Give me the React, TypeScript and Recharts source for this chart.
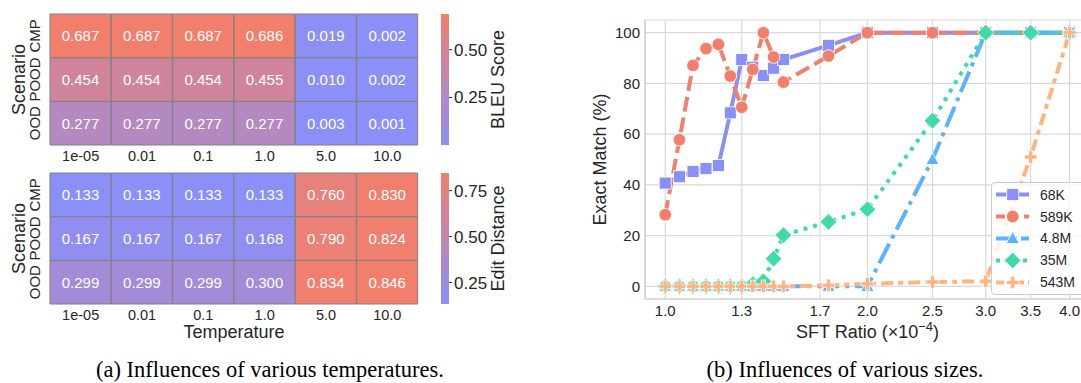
import React from 'react';
import {
  BarChart,
  Bar,
  Cell,
  LabelList,
  LineChart,
  Line,
  XAxis,
  YAxis,
  CartesianGrid,
  Legend,
} from 'recharts';

// ---- heatmap data (a) ----
const temperatures = ['1e-05', '0.01', '0.1', '1.0', '5.0', '10.0'];
const scenarioLabels = ['OOD', 'POOD', 'CMP']; // bottom to top

const bleuCMP = [0.687, 0.687, 0.687, 0.686, 0.019, 0.002];
const bleuPOOD = [0.454, 0.454, 0.454, 0.455, 0.01, 0.002];
const bleuOOD = [0.277, 0.277, 0.277, 0.277, 0.003, 0.001];

const editCMP = [0.133, 0.133, 0.133, 0.133, 0.76, 0.83];
const editPOOD = [0.167, 0.167, 0.167, 0.168, 0.79, 0.824];
const editOOD = [0.299, 0.299, 0.299, 0.3, 0.834, 0.846];

const bleuTicks = [0.25, 0.5];
const editTicks = [0.25, 0.5, 0.75];

// ---- line data (b) ----
const sftRatios = [1.0, 1.05, 1.1, 1.15, 1.2, 1.25, 1.3, 1.35, 1.4, 1.45, 1.5, 1.75, 2.0, 2.5, 3.0, 3.5, 4.0];
const em68K = [40.7, 43.2, 45.3, 46.4, 47.6, 68.4, 89.4, 86.4, 83.1, 86.0, 89.4, 95, 100, 100, 100, 100, 100];
const em589K = [28.2, 57.8, 87.1, 93.7, 95.4, 82.9, 70.6, 85.5, 100, 90.4, 80.5, 90.8, 100, 100, 100, 100, 100];
const em4_8M = [0, 0, 0, 0, 0, 0, 0, 0, 0, 0, 0, 0, 0, 50, 100, 100, 100];
const em35M = [0, 0, 0, 0, 0, 0, 0, 0.8, 2, 10.9, 20.2, 25.4, 30.4, 65.3, 100, 100, 100];
const em543M = [0, 0, 0, 0, 0, 0, 0, 0, 0, 0, 0, 0.4, 1, 1.7, 2, 51, 100];

const sftTicks = [1.0, 1.3, 1.7, 2.0, 2.5, 3.0, 3.5, 4.0];
const emTicks = [0, 20, 40, 60, 80, 100];

const seriesNames = ['68K', '589K', '4.8M', '35M', '543M'];
const seriesKeys = ['m68K', 'm589K', 'm4_8M', 'm35M', 'm543M'];
const seriesColors = ['#8b90f8', '#f27f6b', '#5db2ff', '#40d9a9', '#ffb482'];
const seriesDashes = [undefined, '15 6', '22 6 4 6', '4 6', '12 5 5 5'];
const legendDashes = [undefined, '9 5', '14 4 3 4', '4 5', '8 4 4 4'];
const seriesShapes = ['square', 'circle', 'triangle', 'diamond', 'plus'];

const lineRows = sftRatios.map((r, i) => ({
  ratio: r,
  m68K: em68K[i],
  m589K: em589K[i],
  m4_8M: em4_8M[i],
  m35M: em35M[i],
  m543M: em543M[i],
}));

const FONT = '"Liberation Sans", Arial, sans-serif';
const INK = '#262626';
const LOW = [139, 143, 248];
const HIGH = [242, 127, 107];

function mix(t: number) {
  const c = LOW.map((l, i) => Math.round(l + (HIGH[i] - l) * t));
  return `rgb(${c.join(',')})`;
}

function vbOf(p: any) {
  return p && p.viewBox ? p.viewBox : p;
}

const renderScenarioTick = (p: any) => {
  const idx = Math.round(p.payload.value - 0.5);
  return (
    <text
      x={p.x}
      y={p.y}
      transform={`rotate(-90 ${p.x} ${p.y})`}
      textAnchor="middle"
      fontSize={15}
      fill={INK}
      fontFamily={FONT}
    >
      {scenarioLabels[idx]}
    </text>
  );
};

const renderScenarioLabel = (p: any) => {
  const vb = vbOf(p);
  const x = Number(vb.x) + 25;
  const y = Number(vb.y) + Number(vb.height) / 2;
  return (
    <text x={x} y={y} transform={`rotate(-90 ${x} ${y})`} textAnchor="middle" fontSize={18} fill={INK} fontFamily={FONT}>
      Scenario
    </text>
  );
};

const renderTempLabel = (p: any) => {
  const vb = vbOf(p);
  return (
    <text
      x={Number(vb.x) + Number(vb.width) / 2}
      y={Number(vb.y) + 34}
      textAnchor="middle"
      fontSize={18}
      fill={INK}
      fontFamily={FONT}
    >
      Temperature
    </text>
  );
};

const renderCellValue = (p: any) => {
  const vb = vbOf(p);
  const x = Number(vb.x) + Number(vb.width) / 2;
  const y = Number(vb.y) + Number(vb.height) / 2;
  return (
    <text x={x} y={y} dy="0.36em" textAnchor="middle" fontSize={15} fill="#ffffff" fontFamily={FONT}>
      {Number(p.value).toFixed(3)}
    </text>
  );
};

function Heatmap({ cmp, pood, ood, height, showLabel }: any) {
  const all = [...cmp, ...pood, ...ood];
  const lo = Math.min(...all);
  const hi = Math.max(...all);
  const colour = (v: number) => mix((v - lo) / (hi - lo));
  const data = temperatures.map((t, i) => ({
    temp: t,
    OOD: ood[i],
    POOD: pood[i],
    CMP: cmp[i],
    OOD_cell: 1,
    POOD_cell: 1,
    CMP_cell: 1,
  }));
  const keys = ['OOD', 'POOD', 'CMP'];
  return (
    <BarChart
      width={420}
      height={height}
      data={data}
      margin={{ top: 14, right: 2, bottom: 0, left: 0 }}
      barCategoryGap={0}
      barGap={0}
    >
      <XAxis
        dataKey="temp"
        interval={0}
        tickLine={false}
        axisLine={false}
        tickSize={4}
        tickMargin={2}
        height={height - 145}
        tick={{ fontSize: 14.5, fill: INK, fontFamily: FONT }}
        label={showLabel ? renderTempLabel : undefined}
      />
      <YAxis
        type="number"
        domain={[0, 3]}
        ticks={[0.5, 1.5, 2.5]}
        width={50}
        tickLine={false}
        axisLine={false}
        tickSize={4}
        tickMargin={6}
        tick={renderScenarioTick}
        label={renderScenarioLabel}
      />
      {keys.map((k) => (
        <Bar key={k} dataKey={`${k}_cell`} stackId="cells" isAnimationActive={false}>
          {data.map((d: any, i) => (
            <Cell key={i} fill={colour(d[k])} stroke="#808080" strokeWidth={1} />
          ))}
          <LabelList dataKey={k} content={renderCellValue} />
        </Bar>
      ))}
    </BarChart>
  );
}

function Colorbar({ values, ticks, title, id }: any) {
  const lo = Math.min(...values);
  const hi = Math.max(...values);
  const data = [{ name: title, range: [lo, hi] }];
  const renderTitle = (p: any) => {
    const vb = vbOf(p);
    const x = Number(vb.x) + 55;
    const y = Number(vb.y) + Number(vb.height) / 2;
    return (
      <text x={x} y={y} transform={`rotate(-90 ${x} ${y})`} textAnchor="middle" fontSize={18} fill={INK} fontFamily={FONT}>
        {title}
      </text>
    );
  };
  return (
    <BarChart width={100} height={145} data={data} margin={{ top: 14, right: 0, bottom: 0, left: 11 }} barCategoryGap={0}>
      <defs>
        <linearGradient id={id} x1="0" y1="0" x2="0" y2="1">
          <stop offset="0%" stopColor={mix(1)} />
          <stop offset="100%" stopColor={mix(0)} />
        </linearGradient>
      </defs>
      <XAxis dataKey="name" hide />
      <YAxis
        orientation="right"
        type="number"
        domain={[lo, hi]}
        ticks={ticks}
        width={81}
        axisLine={false}
        tickSize={3}
        tickMargin={2}
        tickLine={{ stroke: INK }}
        tick={{ fontSize: 17, fill: INK, fontFamily: FONT }}
        tickFormatter={(v: number) => v.toFixed(2)}
        label={renderTitle}
      />
      <Bar dataKey="range" fill={`url(#${id})`} isAnimationActive={false} />
    </BarChart>
  );
}

function Marker({ shape, cx, cy, color }: any) {
  const edge = { stroke: '#ffffff', strokeWidth: 0.8 };
  if (shape === 'square') return <rect x={cx - 6} y={cy - 6} width={12} height={12} fill={color} {...edge} />;
  if (shape === 'circle') return <circle cx={cx} cy={cy} r={6.3} fill={color} {...edge} />;
  if (shape === 'triangle')
    return <polygon points={`${cx},${cy - 7} ${cx + 6.5},${cy + 5} ${cx - 6.5},${cy + 5}`} fill={color} {...edge} />;
  if (shape === 'diamond')
    return <polygon points={`${cx},${cy - 8.3} ${cx + 8.3},${cy} ${cx},${cy + 8.3} ${cx - 8.3},${cy}`} fill={color} {...edge} />;
  const a = 6.3;
  const b = 2.1;
  const pts = [
    [-b, -a], [b, -a], [b, -b], [a, -b], [a, b], [b, b],
    [b, a], [-b, a], [-b, b], [-a, b], [-a, -b], [-b, -b],
  ]
    .map(([dx, dy]) => `${cx + dx},${cy + dy}`)
    .join(' ');
  return <polygon points={pts} fill={color} {...edge} />;
}

const renderLegend = () => (
  <div
    style={{
      border: '1px solid #cccccc',
      borderRadius: 4,
      background: 'rgba(255,255,255,0.8)',
      width: 110,
      paddingTop: 1,
      paddingBottom: 1,
      fontFamily: FONT,
      fontSize: 14,
      color: INK,
    }}
  >
    {seriesNames.map((name, i) => (
      <div key={name} style={{ display: 'flex', alignItems: 'center', height: 21.8 }}>
        <svg width={46} height={21} style={{ display: 'block' }}>
          <line
            x1={4}
            y1={10.5}
            x2={37}
            y2={10.5}
            stroke={seriesColors[i]}
            strokeWidth={4}
            strokeDasharray={legendDashes[i]}
          />
          <Marker shape={seriesShapes[i]} cx={20.7} cy={10.5} color={seriesColors[i]} />
        </svg>
        <span style={{ marginLeft: 2 }}>{name}</span>
      </div>
    ))}
  </div>
);

const renderEmLabel = (p: any) => {
  const vb = vbOf(p);
  const x = Number(vb.x) + 46;
  const y = Number(vb.y) + Number(vb.height) / 2;
  return (
    <text x={x} y={y} transform={`rotate(-90 ${x} ${y})`} textAnchor="middle" fontSize={18} fill={INK} fontFamily={FONT}>
      Exact Match (%)
    </text>
  );
};

const renderSftLabel = (p: any) => {
  const vb = vbOf(p);
  return (
    <text
      x={Number(vb.x) + Number(vb.width) / 2}
      y={Number(vb.y) + 38.5}
      textAnchor="middle"
      fontSize={18}
      fill={INK}
      fontFamily={FONT}
    >
      <tspan>SFT Ratio (×10</tspan>
      <tspan dy={-7} fontSize={13}>−4</tspan>
      <tspan dy={7}>)</tspan>
    </text>
  );
};

function SizeChart() {
  return (
    <LineChart width={530} height={345} data={lineRows} margin={{ top: 20, right: 0, bottom: 0, left: 0 }}>
      <CartesianGrid stroke="#d9d9d9" strokeWidth={1.2} />
      <XAxis
        dataKey="ratio"
        type="number"
        scale="log"
        domain={[0.933, 4.29]}
        allowDataOverflow
        ticks={sftTicks}
        tickFormatter={(v: number) => v.toFixed(1)}
        tickLine={false}
        tickSize={4}
        tickMargin={2}
        axisLine={{ stroke: '#cccccc', strokeWidth: 1.2 }}
        height={46}
        tick={{ fontSize: 15, fill: INK, fontFamily: FONT }}
        label={renderSftLabel}
      />
      <YAxis
        type="number"
        domain={[-5, 105]}
        allowDataOverflow
        ticks={emTicks}
        tickLine={false}
        tickSize={3}
        tickMargin={2}
        width={85}
        axisLine={{ stroke: '#cccccc', strokeWidth: 1.2 }}
        tick={{ fontSize: 15, fill: INK, fontFamily: FONT }}
        label={renderEmLabel}
      />
      {seriesKeys.map((k, i) => (
        <Line
          key={k}
          dataKey={k}
          name={seriesNames[i]}
          type="linear"
          stroke={seriesColors[i]}
          strokeWidth={4}
          strokeDasharray={seriesDashes[i]}
          isAnimationActive={false}
          activeDot={false}
          dot={(p: any) => (
            <Marker key={`${k}-${p.index}`} shape={seriesShapes[i]} cx={p.cx} cy={p.cy} color={seriesColors[i]} />
          )}
        />
      ))}
      <Legend
        layout="vertical"
        align="center"
        verticalAlign="middle"
        content={renderLegend}
        wrapperStyle={{ position: 'absolute', left: 431, top: 182, width: 112, height: 112 }}
      />
    </LineChart>
  );
}

const captionStyle: React.CSSProperties = {
  position: 'absolute',
  top: 357,
  width: 500,
  textAlign: 'center',
  fontFamily: '"Liberation Serif", serif',
  fontSize: 22.5,
  lineHeight: '25px',
  color: '#000',
  whiteSpace: 'nowrap',
};

export default function App() {
  return (
    <div
      style={{
        position: 'absolute',
        left: 0,
        top: 0,
        width: 1081,
        height: 383,
        overflow: 'hidden',
        background: '#ffffff',
      }}
    >
      <div style={{ position: 'absolute', left: 0, top: 0 }}>
        <Heatmap cmp={bleuCMP} pood={bleuPOOD} ood={bleuOOD} height={170} showLabel={false} />
      </div>
      <div style={{ position: 'absolute', left: 0, top: 159 }}>
        <Heatmap cmp={editCMP} pood={editPOOD} ood={editOOD} height={195} showLabel />
      </div>
      <div style={{ position: 'absolute', left: 430, top: 0 }}>
        <Colorbar values={[...bleuCMP, ...bleuPOOD, ...bleuOOD]} ticks={bleuTicks} title="BLEU Score" id="bleuGrad" />
      </div>
      <div style={{ position: 'absolute', left: 430, top: 159 }}>
        <Colorbar values={[...editCMP, ...editPOOD, ...editOOD]} ticks={editTicks} title="Edit Distance" id="editGrad" />
      </div>
      <div style={{ position: 'absolute', left: 560, top: 0 }}>
        <SizeChart />
      </div>
      <div style={{ ...captionStyle, left: 270 - 250 }}>(a) Influences of various temperatures.</div>
      <div style={{ ...captionStyle, left: 845 - 250 }}>(b) Influences of various sizes.</div>
    </div>
  );
}
